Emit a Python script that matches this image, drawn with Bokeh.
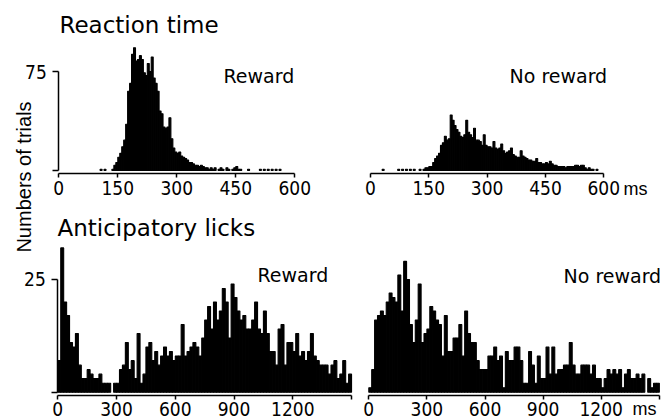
from bokeh.plotting import figure
from bokeh.models import Range1d, LinearAxis, FixedTicker, Label
from bokeh.embed import file_html
from bokeh.resources import INLINE
import numpy as np

# ---------------- data ----------------
RT_BIN = 5          # ms per bin, reaction time histograms
rt_reward_first = 100
rt_reward_counts = [
    0, 1, 0, 1, 0, 0, 0, 1, 4, 6,            # 100-145
    10, 13, 18, 23, 35, 60, 66, 88, 93, 83,  # 150-195
    84, 87, 84, 74, 72, 81, 75, 86, 70, 66,  # 200-245
    60, 45, 43, 33, 32, 33, 40, 24, 17, 14,  # 250-295
    13, 14, 11, 10, 9, 8, 6, 6, 5, 4,        # 300-345
    4, 3, 4, 3, 2, 2, 1, 2, 1, 2,            # 350-395
    0, 1, 2, 1, 0, 2, 1, 0, 1, 2,            # 400-445
    3, 1, 1, 0, 0, 0, 1, 0, 0, 0,            # 450-495
    0, 0, 1, 0, 1, 0, 1, 0, 1, 0,            # 500-545
    1, 0, 1,                                 # 550-560
]
rt_noreward_first = 30
rt_noreward_counts = [
    1, 0, 0, 0, 0, 0, 0, 0, 1, 0,            # 30-75
    1, 0, 1, 0, 1, 0, 1, 0, 0, 1,            # 80-125
    0, 1, 2, 2, 3, 3, 6, 9, 11, 13,          # 130-175
    19, 21, 26, 23, 24, 42, 38, 34, 31, 29,  # 180-225
    26, 25, 27, 38, 29, 27, 25, 32, 23, 23,  # 230-275
    22, 19, 27, 19, 18, 18, 17, 22, 17, 16,  # 280-325
    17, 20, 15, 13, 14, 15, 17, 12, 11, 10,  # 330-375
    10, 15, 11, 10, 9, 8, 8, 7, 7, 9,        # 380-425
    6, 6, 5, 5, 6, 5, 7, 5, 4, 4,            # 430-475
    3, 3, 3, 3, 2, 3, 3, 3, 3, 4,            # 480-525
    4, 3, 4, 4, 2, 1, 2, 1, 1, 0,            # 530-575
    1,                                       # 580
]

LICK_BIN = 15       # ms per bin, anticipatory lick histograms
lick_first = 0
lick_reward_counts = [
    7, 32, 20, 17, 11, 10, 13, 6, 3, 3,
    5, 4, 3, 3, 4, 2, 2, 2, 0, 2,
    2, 5, 6, 11, 5, 7, 3, 13, 2, 4,
    10, 11, 7, 9, 6, 8, 10, 8, 9, 7,
    8, 8, 15, 8, 9, 10, 11, 10, 8, 12,
    16, 19, 14, 20, 16, 18, 23, 20, 12, 24,
    21, 18, 16, 17, 14, 14, 16, 20, 14, 13,
    18, 13, 9, 9, 6, 14, 15, 6, 11, 11,
    9, 13, 8, 9, 7, 9, 13, 8, 7, 6,
    6, 6, 4, 6, 7, 3, 4, 7, 2, 4,
]
lick_noreward_counts = [
    1, 5, 16, 17, 18, 17, 20, 22, 21, 20,
    26, 18, 29, 25, 15, 11, 16, 24, 11, 13,
    14, 19, 18, 16, 15, 8, 17, 9, 9, 12,
    12, 15, 8, 18, 13, 11, 11, 7, 5, 5,
    5, 8, 8, 10, 7, 8, 1, 9, 7, 7,
    10, 10, 7, 2, 2, 9, 6, 2, 8, 3,
    3, 10, 4, 10, 4, 5, 5, 6, 6, 11,
    6, 4, 4, 6, 6, 6, 4, 6, 3, 3,
    1, 3, 5, 4, 5, 4, 5, 1, 4, 5,
    3, 3, 4, 3, 4, 0, 3, 1, 2, 2,
]

rt_ticks = [0, 150, 300, 450, 600]
rt_tick_labels = ["0", "150", "300", "450", "600"]
lick_ticks = [0, 300, 600, 900, 1200, 1500]
lick_tick_labels = ["0", "300", "600", "900", "1200", ""]
rt_yticks = [0, 75]
rt_ytick_labels = ["", "75"]
lick_yticks = [0, 25]
lick_ytick_labels = ["", "25"]

# ---------------- layout (reference pixel geometry) ----------------
W, H = 669, 420


def xr(zero_px, scale):
    return Range1d(-zero_px / scale, (W - zero_px) / scale)


def yr(zero_py, scale):
    return Range1d((zero_py - H) / scale, zero_py / scale)


p = figure(width=W, height=H, output_backend="svg", toolbar_location=None,
           x_range=Range1d(0, W), y_range=Range1d(H, 0),
           x_axis_location=None, y_axis_location=None, min_border=0,
           outline_line_color=None)
p.grid.visible = False

p.extra_x_ranges = {
    "tl": xr(58.3, 0.3933),
    "tr": xr(370.0, 0.3888),
    "bl": xr(57.3, 0.19583),
    "br": xr(368.3, 0.1937),
}
TOP_ZERO, TOP_SCALE = 170.0, 1.32
BOT_ZERO, BOT_SCALE = 391.7, 4.51
p.extra_y_ranges = {
    "top": yr(TOP_ZERO, TOP_SCALE),
    "bot": yr(BOT_ZERO, BOT_SCALE),
}


def hist(first, width, counts, xname, yname):
    c = np.asarray(counts, dtype=float)
    left = first + width * np.arange(len(c))
    m = c > 0
    p.quad(left=left[m], right=left[m] + width, bottom=0, top=c[m],
           x_range_name=xname, y_range_name=yname,
           fill_color="black", line_color="black", line_width=1.1)


hist(rt_reward_first, RT_BIN, rt_reward_counts, "tl", "top")
hist(rt_noreward_first, RT_BIN, rt_noreward_counts, "tr", "top")
hist(lick_first, LICK_BIN, lick_reward_counts, "bl", "bot")
hist(lick_first, LICK_BIN, lick_noreward_counts, "br", "bot")

TICK_FONT = "DejaVu Sans Condensed"


def style(ax, size, standoff, tick_out):
    ax.axis_line_width = 1.5
    ax.axis_line_color = "black"
    ax.major_tick_line_width = 1.5
    ax.major_tick_line_color = "black"
    ax.major_tick_in = 0
    ax.major_tick_out = tick_out
    ax.minor_tick_line_color = None
    ax.major_label_text_font = TICK_FONT
    ax.major_label_text_font_size = size
    ax.major_label_text_color = "black"
    ax.major_label_standoff = standoff


def xaxis(xname, yname, loc, ticks, labels, standoff):
    ax = LinearAxis(x_range_name=xname, y_range_name=yname,
                    fixed_location=loc, bounds=(ticks[0], ticks[-1]),
                    ticker=FixedTicker(ticks=ticks),
                    major_label_overrides={t: l for t, l in zip(ticks, labels)})
    style(ax, "19px", standoff, 4)
    p.add_layout(ax, "below")


def yaxis(xname, yname, ticks, labels):
    ax = LinearAxis(x_range_name=xname, y_range_name=yname,
                    fixed_location=0, bounds=(ticks[0], ticks[-1]),
                    ticker=FixedTicker(ticks=ticks),
                    major_label_overrides={t: l for t, l in zip(ticks, labels)})
    style(ax, "19px", 6, 6)
    p.add_layout(ax, "left")


top_axis_loc = (TOP_ZERO - 173.0) / TOP_SCALE
bot_axis_loc = (BOT_ZERO - 395.0) / BOT_SCALE
xaxis("tl", "top", top_axis_loc, rt_ticks, rt_tick_labels, 3)
xaxis("tr", "top", top_axis_loc, rt_ticks, rt_tick_labels, 3)
xaxis("bl", "bot", bot_axis_loc, lick_ticks, lick_tick_labels, 2)
xaxis("br", "bot", bot_axis_loc, lick_ticks, lick_tick_labels, 2)
yaxis("tl", "top", rt_yticks, rt_ytick_labels)
yaxis("bl", "bot", lick_yticks, lick_ytick_labels)


def text(x, y, s, size, font="DejaVu Sans", angle=0, align="left"):
    p.add_layout(Label(x=x, y=y, text=s, text_font=font, text_font_size=size,
                       text_baseline="middle", text_align=align,
                       angle=angle, angle_units="deg", text_color="black"))


text(59, 24, "Reaction time", "23px")
text(57, 227, "Anticipatory licks", "23px")
text(223, 75.4, "Reward", "19px")
text(509, 75.4, "No reward", "19px")
text(257, 274.4, "Reward", "19px")
text(563, 275.9, "No reward", "19px")
text(23, 176.5, "Numbers of trials", "20px", font="Liberation Sans", angle=90, align="center")
text(623, 188.8, "ms", "18px", font="Liberation Sans")
text(632, 408.8, "ms", "18px", font="Liberation Sans")

open("out.html", "w").write(file_html(p, INLINE))
